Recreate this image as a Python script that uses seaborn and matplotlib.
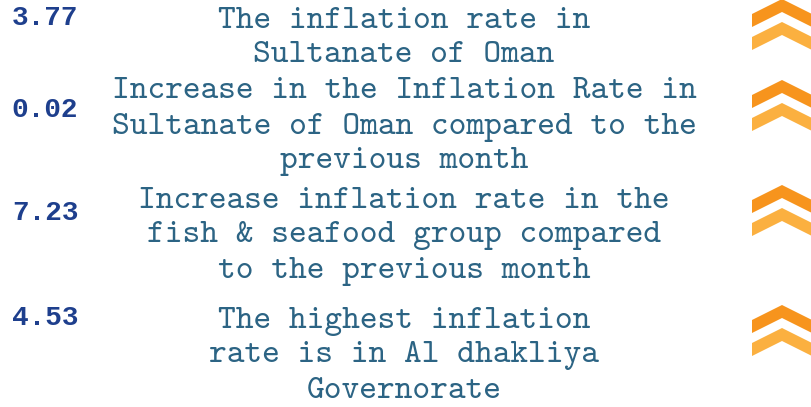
import matplotlib
matplotlib.use("Agg")
import matplotlib.pyplot as plt
import seaborn as sns

# values and descriptions (one entry per row)
values = ["3.77", "0.02", "7.23", "4.53"]
descriptions = [
    ["The inflation rate in", "Sultanate of Oman"],
    ["Increase in the Inflation Rate in", "Sultanate of Oman compared to the", "previous month"],
    ["Increase inflation rate in the", "fish & seafood group compared", "to the previous month"],
    ["The highest inflation", "rate is in Al dhakliya", "Governorate"],
]
directions = ["up", "up", "up", "up"]

# layout (pixel coordinates, y from top)
value_y = [18, 110, 213, 318]
text_first_y = [21, 92, 201, 321]
icon_top = [-1, 80, 185, 305]
line_step = 35

sns.set_theme(style="white")
plt.rcParams["font.family"] = ["Liberation Mono", "DejaVu Sans Mono"]

fig = plt.figure(figsize=(8.11, 4.07), dpi=100)
ax = fig.add_axes([0, 0, 1, 1])
ax.set_xlim(0, 811)
ax.set_ylim(407, 0)
ax.axis("off")


def chevron(ax, cx, top, color, half=30, drop=15, thick=13):
    xs = [cx, cx + half, cx + half, cx, cx - half, cx - half]
    ys = [top, top + drop, top + drop + thick, top + thick, top + drop + thick, top + drop]
    ax.fill(xs, ys, color=color, lw=0, antialiased=True)


for i, val in enumerate(values):
    ax.text(45, value_y[i], val, ha="center", va="center", fontsize=20,
            fontweight="bold", color="#1e3f8d")
    for j, line in enumerate(descriptions[i]):
        ax.text(404, text_first_y[i] + j * line_step, line, ha="center",
                va="center", fontsize=24.3, color="#2c6484",
                family=["cmtt10", "Liberation Mono"])
    if directions[i] == "up":
        chevron(ax, 782, icon_top[i], "#f7941d")
        chevron(ax, 782, icon_top[i] + 23, "#fbb040")

fig.savefig("out.png", dpi=100, facecolor="white")
